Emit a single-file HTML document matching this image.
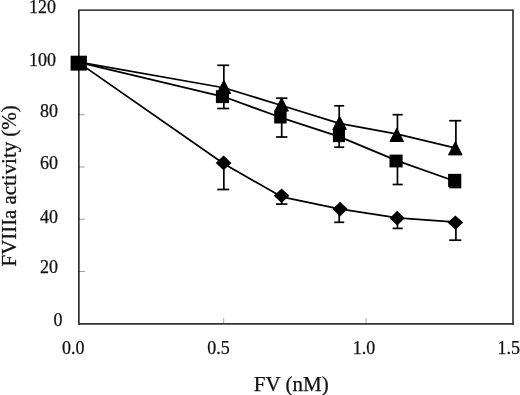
<!DOCTYPE html>
<html><head><meta charset="utf-8"><title>chart</title>
<style>html,body{margin:0;padding:0;background:#fff}svg{display:block;will-change:transform}text{font-family:"Liberation Serif",serif;fill:#111;stroke:#111;stroke-width:0.25px}</style></head><body>
<svg width="520" height="395" viewBox="0 0 520 395">
<rect width="520" height="395" fill="#fff"/>
<line x1="223.7" y1="318" x2="223.7" y2="323" stroke="#aaa" stroke-width="1"/>
<line x1="366.0" y1="318" x2="366.0" y2="323" stroke="#aaa" stroke-width="1"/>
<line x1="78.85" y1="271.5" x2="84.85" y2="271.5" stroke="#888" stroke-width="0.8"/>
<line x1="78.85" y1="219.2" x2="84.85" y2="219.2" stroke="#888" stroke-width="0.8"/>
<line x1="78.85" y1="167.0" x2="84.85" y2="167.0" stroke="#888" stroke-width="0.8"/>
<line x1="78.85" y1="114.7" x2="84.85" y2="114.7" stroke="#888" stroke-width="0.8"/>
<line x1="78.85" y1="62.4" x2="84.85" y2="62.4" stroke="#888" stroke-width="0.8"/>
<line x1="78.1" y1="10.15" x2="513.85" y2="10.15" stroke="#000" stroke-width="1.25"/>
<line x1="78.85" y1="10.15" x2="78.85" y2="324.65000000000003" stroke="#111" stroke-width="1.5"/>
<line x1="513.0" y1="10.15" x2="513.0" y2="324.65000000000003" stroke="#333" stroke-width="1.7"/>
<line x1="78.1" y1="323.8" x2="513.85" y2="323.8" stroke="#333" stroke-width="1.7"/>
<polyline points="79.00,62.20 223.85,87.75 281.70,105.50 339.20,123.40 397.45,134.20 455.90,148.20" fill="none" stroke="#000" stroke-width="1.75" stroke-linejoin="round"/>
<polyline points="79.00,62.40 223.85,96.80 281.70,117.80 339.20,136.60 397.45,160.90 455.90,181.50" fill="none" stroke="#000" stroke-width="1.75" stroke-linejoin="round"/>
<polyline points="79.00,62.85 223.85,163.80 281.70,196.85 339.20,208.90 397.45,217.80 455.90,222.20" fill="none" stroke="#000" stroke-width="1.75" stroke-linejoin="round"/>
<line x1="223.85" y1="87.8" x2="223.85" y2="65.3" stroke="#000" stroke-width="1.7"/><line x1="217.2" y1="65.3" x2="229.2" y2="65.3" stroke="#000" stroke-width="1.7"/>
<line x1="223.85" y1="96.8" x2="223.85" y2="108.5" stroke="#000" stroke-width="1.7"/><line x1="217.2" y1="108.5" x2="229.2" y2="108.5" stroke="#000" stroke-width="1.7"/>
<line x1="223.85" y1="163.8" x2="223.85" y2="189.5" stroke="#000" stroke-width="1.7"/><line x1="217.2" y1="189.5" x2="229.2" y2="189.5" stroke="#000" stroke-width="1.7"/>
<line x1="281.7" y1="105.5" x2="281.7" y2="98.2" stroke="#000" stroke-width="1.7"/><line x1="276.0" y1="98.2" x2="287.4" y2="98.2" stroke="#000" stroke-width="1.7"/>
<line x1="281.7" y1="117.8" x2="281.7" y2="137.0" stroke="#000" stroke-width="1.7"/><line x1="276.0" y1="137.0" x2="287.4" y2="137.0" stroke="#000" stroke-width="1.7"/>
<line x1="281.7" y1="196.8" x2="281.7" y2="204.1" stroke="#000" stroke-width="1.7"/><line x1="276.0" y1="204.1" x2="287.4" y2="204.1" stroke="#000" stroke-width="1.7"/>
<line x1="339.2" y1="123.4" x2="339.2" y2="105.8" stroke="#000" stroke-width="1.7"/><line x1="334.2" y1="105.8" x2="344.2" y2="105.8" stroke="#000" stroke-width="1.7"/>
<line x1="339.2" y1="136.6" x2="339.2" y2="147.2" stroke="#000" stroke-width="1.7"/><line x1="334.2" y1="147.2" x2="344.2" y2="147.2" stroke="#000" stroke-width="1.7"/>
<line x1="339.2" y1="208.9" x2="339.2" y2="222.3" stroke="#000" stroke-width="1.7"/><line x1="334.2" y1="222.3" x2="344.2" y2="222.3" stroke="#000" stroke-width="1.7"/>
<line x1="397.45" y1="134.2" x2="397.45" y2="114.7" stroke="#000" stroke-width="1.7"/><line x1="392.6" y1="114.7" x2="402.7" y2="114.7" stroke="#000" stroke-width="1.7"/>
<line x1="397.45" y1="160.9" x2="397.45" y2="184.5" stroke="#000" stroke-width="1.7"/><line x1="392.6" y1="184.5" x2="402.7" y2="184.5" stroke="#000" stroke-width="1.7"/>
<line x1="397.45" y1="217.8" x2="397.45" y2="228.4" stroke="#000" stroke-width="1.7"/><line x1="392.6" y1="228.4" x2="402.7" y2="228.4" stroke="#000" stroke-width="1.7"/>
<line x1="455.9" y1="148.2" x2="455.9" y2="120.7" stroke="#000" stroke-width="1.7"/><line x1="449.2" y1="120.7" x2="461.3" y2="120.7" stroke="#000" stroke-width="1.7"/>
<line x1="455.9" y1="181.5" x2="455.9" y2="187.5" stroke="#000" stroke-width="1.7"/><line x1="449.2" y1="187.5" x2="461.3" y2="187.5" stroke="#000" stroke-width="1.7"/>
<line x1="455.9" y1="222.2" x2="455.9" y2="240.2" stroke="#000" stroke-width="1.7"/><line x1="449.2" y1="240.2" x2="461.3" y2="240.2" stroke="#000" stroke-width="1.7"/>
<rect x="70.6" y="55.7" width="16.3" height="14.9" fill="#000"/>
<rect x="215.9" y="90.2" width="13.10" height="12.90" fill="#000"/>
<polygon points="223.85,80.30 230.65,93.50 217.05,93.50" fill="#000" stroke="#000" stroke-width="1" stroke-linejoin="round"/>
<polygon points="223.6,155.50 231.50,162.9 223.6,170.30 215.70,162.9" fill="#000"/>
<rect x="274.2" y="110.5" width="12.40" height="13.00" fill="#000"/>
<polygon points="281.60,97.90 288.40,111.10 274.80,111.10" fill="#000" stroke="#000" stroke-width="1" stroke-linejoin="round"/>
<polygon points="281.6,188.50 289.40,195.8 281.6,203.10 273.80,195.8" fill="#000"/>
<rect x="332.9" y="129.2" width="12.10" height="12.95" fill="#000"/>
<polygon points="339.60,116.30 346.40,129.50 332.80,129.50" fill="#000" stroke="#000" stroke-width="1" stroke-linejoin="round"/>
<polygon points="340.1,201.70 347.70,209.1 340.1,216.50 332.50,209.1" fill="#000"/>
<rect x="389.5" y="154.6" width="13.10" height="12.80" fill="#000"/>
<polygon points="396.75,128.30 403.55,141.50 389.95,141.50" fill="#000" stroke="#000" stroke-width="1" stroke-linejoin="round"/>
<polygon points="397.2,210.80 404.80,218.2 397.2,225.60 389.60,218.2" fill="#000"/>
<rect x="448.1" y="173.85" width="13.20" height="13.05" fill="#000"/>
<polygon points="455.30,141.70 462.10,154.90 448.50,154.90" fill="#000" stroke="#000" stroke-width="1" stroke-linejoin="round"/>
<polygon points="455.4,215.40 463.20,222.6 455.4,229.80 447.60,222.6" fill="#000"/>
<text x="55.9" y="13.4" font-size="18" text-anchor="end">120</text>
<text x="56.0" y="65.75" font-size="18" text-anchor="end">100</text>
<text x="58.0" y="116.8" font-size="18" text-anchor="end">80</text>
<text x="58.0" y="169.0" font-size="18" text-anchor="end">60</text>
<text x="58.0" y="222.5" font-size="18" text-anchor="end">40</text>
<text x="58.0" y="273.3" font-size="18" text-anchor="end">20</text>
<text x="62.5" y="325.8" font-size="18" text-anchor="end">0</text>
<text x="61.9" y="354.3" font-size="18">0.0</text>
<text x="207.2" y="354.3" font-size="18">0.5</text>
<text x="352.7" y="354.3" font-size="18">1.0</text>
<text x="497.6" y="354.3" font-size="18">1.5</text>
<text x="253.8" y="390.6" font-size="21">FV (nM)</text>
<text transform="translate(15.5,266.5) rotate(-90)" font-size="21" letter-spacing="-0.05">FVIIIa activity (%)</text>
</svg></body></html>
